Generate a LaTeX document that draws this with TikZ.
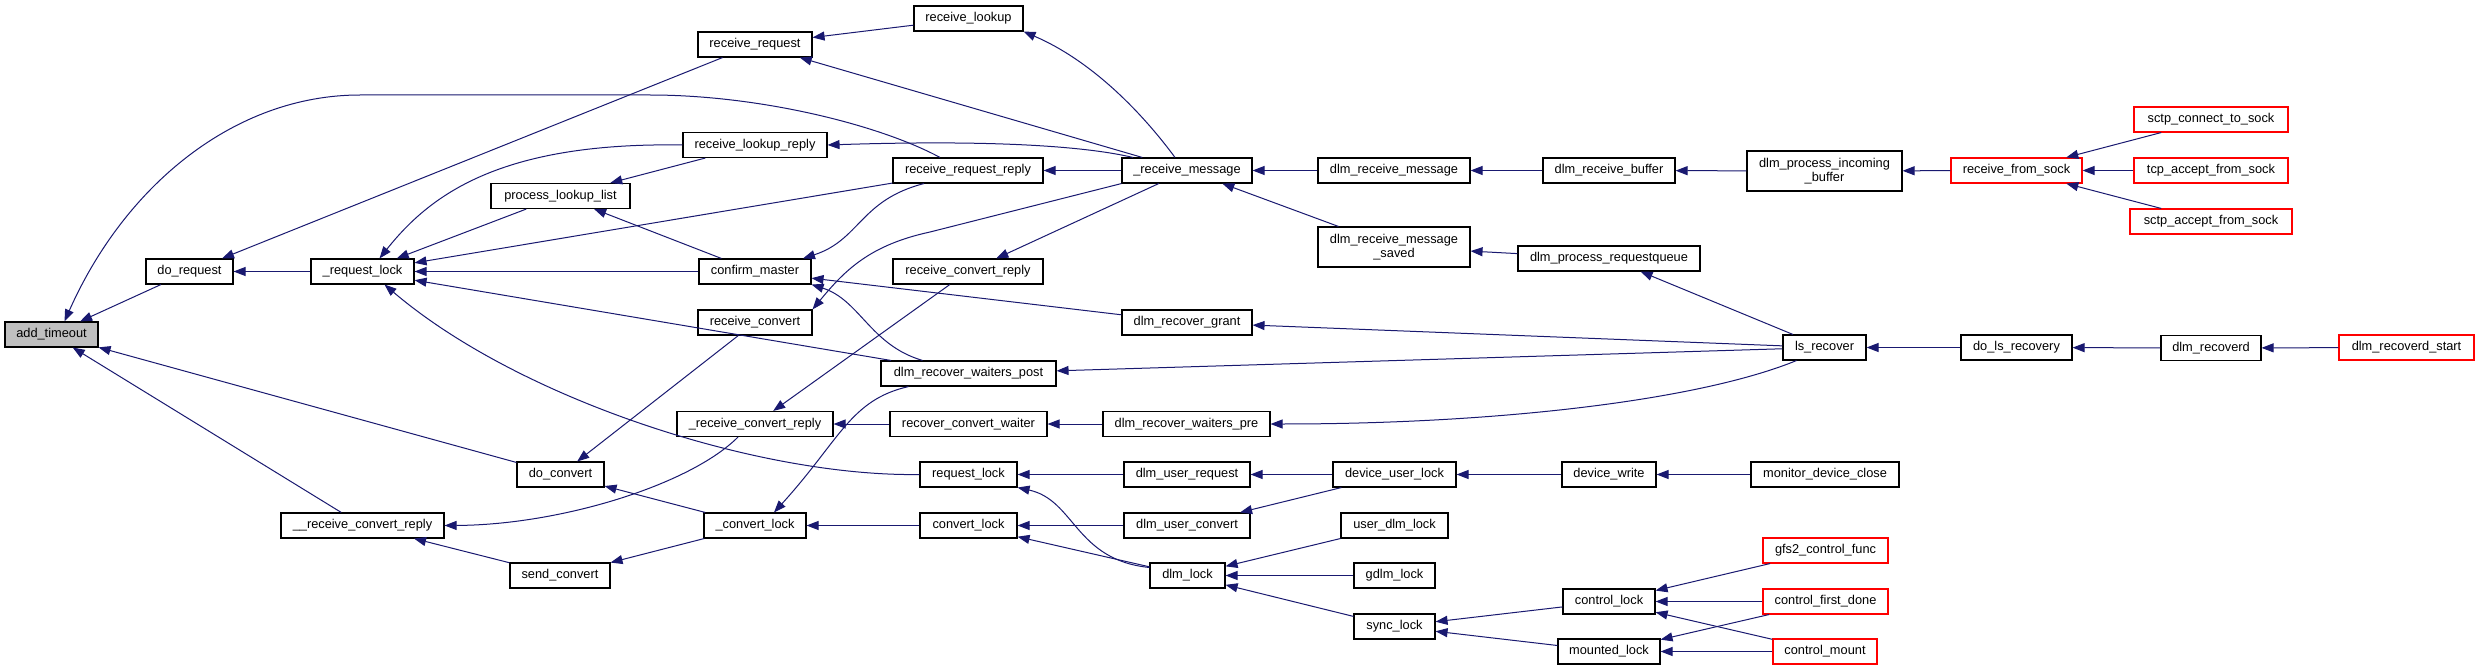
\documentclass[tikz,border=0pt]{standalone}
\usepackage{fontspec}
\setmainfont{Liberation Sans}
\usepackage{xcolor}
\usetikzlibrary{arrows.meta}
\definecolor{edgeblue}{HTML}{191970}
\definecolor{hlgray}{HTML}{BFBFBF}

\begin{document}
\begin{tikzpicture}[x=1pt, y=-1pt, >={Triangle[length=12pt,width=9pt]},
  fn/.style={draw=black, line width=1.1pt, fill=white, minimum height=25pt, inner sep=0pt,
    font=\fontsize{12.8}{14}\selectfont, align=center},
  fnred/.style={fn, draw=red},
  call/.style={<-, draw=edgeblue, line width=1pt}]
  \fill[white] (0,0) rectangle (2479,671);
  \useasboundingbox (0,0) rectangle (2479,671);
  % column 0-3
  \node[fn, minimum width=93pt, fill=hlgray] (addto) at (51.5,334.5) {add\_timeout};
  \node[fn, minimum width=87pt] (doreq) at (189.5,271.5) {do\_request};
  \node[fn, minimum width=103pt] (reqlock) at (362.5,271.5) {\_request\_lock};
  \node[fn, minimum width=163pt] (urcr) at (362.5,525.5) {\_\_receive\_convert\_reply};
  \node[fn, minimum width=139pt] (plist) at (560.5,196) {process\_lookup\_list};
  \node[fn, minimum width=87pt] (doconv) at (560.5,474.5) {do\_convert};
  \node[fn, minimum width=100pt] (sendconv) at (560,575.5) {send\_convert};
  % column 4
  \node[fn, minimum width=114pt] (rreq) at (755,44.5) {receive\_request};
  \node[fn, minimum width=144pt] (rlreply) at (755,145) {receive\_lookup\_reply};
  \node[fn, minimum width=112pt] (cmaster) at (755,271.5) {confirm\_master};
  \node[fn, minimum width=114pt] (rconv) at (755,322.5) {receive\_convert};
  \node[fn, minimum width=156pt] (ucrr) at (755,424) {\_receive\_convert\_reply};
  \node[fn, minimum width=102pt] (cvlock) at (755,525.5) {\_convert\_lock};
  % column 5
  \node[fn, minimum width=109pt] (rlookup) at (968.5,18.5) {receive\_lookup};
  \node[fn, minimum width=150pt] (rrr) at (968,170.5) {receive\_request\_reply};
  \node[fn, minimum width=150pt] (rcreply) at (968,271.5) {receive\_convert\_reply};
  \node[fn, minimum width=175pt] (rwpost) at (968.5,373.5) {dlm\_recover\_waiters\_post};
  \node[fn, minimum width=157pt] (rcwaiter) at (968.5,424) {recover\_convert\_waiter};
  \node[fn, minimum width=97pt] (rlock) at (968.5,474.5) {request\_lock};
  \node[fn, minimum width=97pt] (cvl) at (968.5,525.5) {convert\_lock};
  % column 6
  \node[fn, minimum width=130pt] (rmsg) at (1187,170.5) {\_receive\_message};
  \node[fn, minimum width=130pt] (rgrant) at (1187,322.5) {dlm\_recover\_grant};
  \node[fn, minimum width=167pt] (rwpre) at (1186.5,424) {dlm\_recover\_waiters\_pre};
  \node[fn, minimum width=126pt] (ureq) at (1187,474.5) {dlm\_user\_request};
  \node[fn, minimum width=126pt] (uconv) at (1187,525.5) {dlm\_user\_convert};
  \node[fn, minimum width=75pt] (dlock) at (1187.5,575.5) {dlm\_lock};
  % column 7
  \node[fn, minimum width=152pt] (rmsgd) at (1394,170.5) {dlm\_receive\_message};
  \node[fn, minimum width=152pt, minimum height=40pt] (rmsgsaved) at (1394,247) {dlm\_receive\_message\\\_saved};
  \node[fn, minimum width=123pt] (dulock) at (1394.5,474.5) {device\_user\_lock};
  \node[fn, minimum width=107pt] (udlock) at (1394.5,525.5) {user\_dlm\_lock};
  \node[fn, minimum width=81pt] (gdlock) at (1394.5,575.5) {gdlm\_lock};
  \node[fn, minimum width=81pt] (synclock) at (1394.5,626.5) {sync\_lock};
  % column 8
  \node[fn, minimum width=132pt] (rbuf) at (1609,170.5) {dlm\_receive\_buffer};
  \node[fn, minimum width=182pt] (preqq) at (1609,258.5) {dlm\_process\_requestqueue};
  \node[fn, minimum width=94pt] (dwrite) at (1609,474.5) {device\_write};
  \node[fn, minimum width=92pt] (ctllock) at (1609,601.5) {control\_lock};
  \node[fn, minimum width=102pt] (mntlock) at (1609,651.5) {mounted\_lock};
  % column 9
  \node[fn, minimum width=155pt, minimum height=40pt] (pinbuf) at (1824.5,171) {dlm\_process\_incoming\\\_buffer};
  \node[fn, minimum width=83pt] (lsrec) at (1824.5,347.5) {ls\_recover};
  \node[fn, minimum width=148pt] (mclose) at (1825,474.5) {monitor\_device\_close};
  \node[fnred, minimum width=125pt] (gfsfunc) at (1825.5,550.5) {gfs2\_control\_func};
  \node[fnred, minimum width=125pt] (cfdone) at (1825.5,601.5) {control\_first\_done};
  \node[fnred, minimum width=104pt] (cmount) at (1825,651.5) {control\_mount};
  % columns 10-12
  \node[fnred, minimum width=131pt] (rsock) at (2016.5,170.5) {receive\_from\_sock};
  \node[fn, minimum width=111pt] (dolsr) at (2016.5,347.5) {do\_ls\_recovery};
  \node[fnred, minimum width=154pt] (sconn) at (2211,119.5) {sctp\_connect\_to\_sock};
  \node[fnred, minimum width=154pt] (tacc) at (2211,170.5) {tcp\_accept\_from\_sock};
  \node[fnred, minimum width=162pt] (sacc) at (2211,221.5) {sctp\_accept\_from\_sock};
  \node[fn, minimum width=100pt] (recd) at (2211,348) {dlm\_recoverd};
  \node[fnred, minimum width=135pt] (recds) at (2406.5,347.5) {dlm\_recoverd\_start};

  % straight calls
  \draw[call] (addto) -- (doreq);
  \draw[call] (addto) -- (doconv);
  \draw[call] (addto) -- (urcr);
  \draw[call] (doreq) -- (reqlock);
  \draw[call] (doreq) -- (rreq);
  \draw[call] (reqlock) -- (plist);
  \draw[call] (reqlock) -- (rrr);
  \draw[call] (reqlock) -- (cmaster);
  \draw[call] (reqlock) -- (rwpost);
  \draw[call] (plist) -- (rlreply);
  \draw[call] (plist) -- (cmaster);
  \draw[call] (urcr) -- (sendconv);
  \draw[call] (doconv) -- (rconv);
  \draw[call] (doconv) -- (cvlock);
  \draw[call] (sendconv) -- (cvlock);
  \draw[call] (rreq) -- (rlookup);
  \draw[call] (rreq) -- (rmsg);
  \draw[call] (cmaster) -- (rgrant);
  \draw[call] (ucrr) -- (rcreply);
  \draw[call] (ucrr) -- (rcwaiter);
  \draw[call] (cvlock) -- (cvl);
  \draw[call] (rrr) -- (rmsg);
  \draw[call] (rcreply) -- (rmsg);
  \draw[call] (rwpost) -- (lsrec);
  \draw[call] (rcwaiter) -- (rwpre);
  \draw[call] (rlock) -- (ureq);
  \draw[call] (cvl) -- (uconv);
  \draw[call] (cvl) -- (dlock);
  \draw[call] (rmsg) -- (rmsgd);
  \draw[call] (rmsg) -- (rmsgsaved);
  \draw[call] (rgrant) -- (lsrec);
  \draw[call] (ureq) -- (dulock);
  \draw[call] (uconv) -- (dulock);
  \draw[call] (dlock) -- (udlock);
  \draw[call] (dlock) -- (gdlock);
  \draw[call] (dlock) -- (synclock);
  \draw[call] (rmsgd) -- (rbuf);
  \draw[call] (rmsgsaved) -- (preqq);
  \draw[call] (dulock) -- (dwrite);
  \draw[call] (synclock) -- (ctllock);
  \draw[call] (synclock) -- (mntlock);
  \draw[call] (rbuf) -- (pinbuf);
  \draw[call] (preqq) -- (lsrec);
  \draw[call] (dwrite) -- (mclose);
  \draw[call] (ctllock) -- (gfsfunc);
  \draw[call] (ctllock) -- (cfdone);
  \draw[call] (ctllock) -- (cmount);
  \draw[call] (mntlock) -- (cfdone);
  \draw[call] (mntlock) -- (cmount);
  \draw[call] (pinbuf) -- (rsock);
  \draw[call] (lsrec) -- (dolsr);
  \draw[call] (rsock) -- (sconn);
  \draw[call] (rsock) -- (tacc);
  \draw[call] (rsock) -- (sacc);
  \draw[call] (dolsr) -- (recd);
  \draw[call] (recd) -- (recds);

  % curved calls
  \draw[call] ([xshift=13pt]addto.north) .. controls (125,185) and (235,95) .. (360,95)
    -- (650,95) .. controls (760,95) and (880,125) .. ([xshift=-28pt]rrr.north);
  \draw[call] ([xshift=17pt]reqlock.north) .. controls (430,195) and (500,142) .. (rlreply.west);
  \draw[call] ([xshift=22pt]reqlock.south) .. controls (520,400) and (760,477) .. (rlock.west);
  \draw[call] (urcr.east) .. controls (560,525) and (690,485) .. ([xshift=-17pt]ucrr.south);
  \draw[call] ([xshift=48pt]cmaster.north) .. controls (860,240) and (860,200) .. ([xshift=-44pt]rrr.south);
  \draw[call] (cmaster.south east) .. controls (860,300) and (870,345) .. ([xshift=-46pt]rwpost.north);
  \draw[call] (rconv.north east) .. controls (845,270) and (870,245) .. (930,232) -- (rmsg.south west);
  \draw[call] ([xshift=19pt]cvlock.north) .. controls (840,440) and (850,400) .. ([xshift=-60pt]rwpost.south);
  \draw[call] (rlookup.south east) .. controls (1090,60) and (1140,110) .. ([xshift=-12pt]rmsg.north);
  \draw[call] (rlreply.east) .. controls (980,140) and (1080,145) .. ([xshift=-54pt]rmsg.north);
  \draw[call] (rlock.south east) .. controls (1075,500) and (1075,560) .. ([yshift=8pt]dlock.west);
  \draw[call] (rwpre.east) .. controls (1500,424) and (1700,400) .. ([xshift=-28pt]lsrec.south);
\end{tikzpicture}
\end{document}
